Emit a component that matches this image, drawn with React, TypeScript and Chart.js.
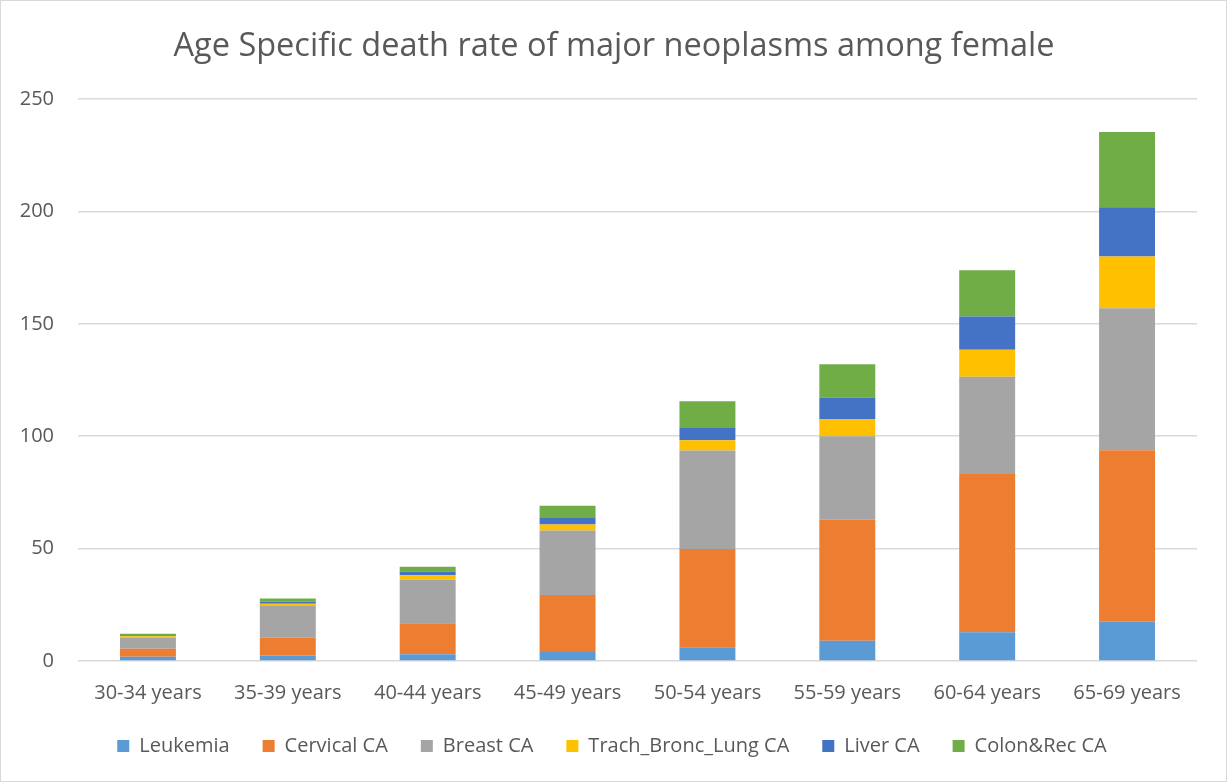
import React, { useEffect, useRef } from "react";
import { Chart, registerables } from "chart.js";

Chart.register(...registerables);

const categories = ["30-34 years", "35-39 years", "40-44 years", "45-49 years", "50-54 years", "55-59 years", "60-64 years", "65-69 years"];
const leukemia = [1.9, 2.5, 3.0, 4.0, 6.1, 9.0, 12.8, 17.5];
const cervical = [3.6, 7.9, 13.8, 25.4, 43.7, 54.0, 70.4, 76.2];
const breast = [4.9, 14.1, 19.4, 28.7, 43.8, 37.0, 43.3, 63.2];
const lung = [0.6, 1.0, 2.0, 2.6, 4.6, 7.7, 12.0, 23.0];
const liver = [0.45, 0.9, 1.6, 2.9, 5.5, 9.4, 14.7, 22.0];
const colon = [0.7, 1.4, 2.1, 5.5, 11.9, 14.9, 20.6, 33.4];
const yTicks = [0, 50, 100, 150, 200, 250];

const FONT = "'Open Sans', 'DejaVu Sans', sans-serif";

const shiftPlugin = {
  id: "shiftBoxes",
  afterLayout(chart: any) {
    if (chart.legend) {
      chart.legend.left += 13;
      chart.legend.right += 13;
    }
    if (chart.titleBlock) {
      chart.titleBlock.left += 15;
      chart.titleBlock.right += 15;
    }
    if (chart.scales.x) {
      chart.scales.x.bottom = chart.height;
    }
  },
};

export default function App() {
  const ref = useRef<HTMLCanvasElement | null>(null);
  useEffect(() => {
    document.body.style.margin = "0";
    const ctx = ref.current!;
    const mk = (label: string, data: number[], color: string) => ({
      label,
      data,
      backgroundColor: color,
      borderWidth: 0,
      barPercentage: 0.4,
      categoryPercentage: 1,
    });
    const chart = new Chart(ctx, {
      type: "bar",
      data: {
        labels: categories,
        datasets: [
          mk("Leukemia", leukemia, "#5b9bd5"),
          mk("Cervical CA", cervical, "#ed7d31"),
          mk("Breast CA", breast, "#a5a5a5"),
          mk("Trach_Bronc_Lung CA", lung, "#ffc000"),
          mk("Liver CA", liver, "#4472c4"),
          mk("Colon&Rec CA", colon, "#70ad47"),
        ],
      },
      plugins: [shiftPlugin],
      options: {
        animation: false,
        responsive: false,
        maintainAspectRatio: false,
        layout: { padding: { left: 0, right: 29, top: 14, bottom: 15 } },
        plugins: {
          title: {
            display: true,
            text: "Age Specific death rate of major neoplasms among female",
            color: "#595959",
            font: { family: FONT, size: 32.5, weight: "normal" },
            padding: { top: 12, bottom: 33 },
          },
          legend: {
            position: "bottom",
            labels: {
              color: "#595959",
              font: { family: FONT, size: 20 },
              boxWidth: 12,
              boxHeight: 12,
              padding: 33,
            },
          },
          tooltip: { enabled: false },
        },
        scales: {
          x: {
            stacked: true,
            grid: { display: false },
            border: { display: false },
            ticks: { color: "#595959", font: { family: FONT, size: 20 }, padding: 12, maxRotation: 0 },
            afterFit: (axis: any) => {
              axis.height = axis.height - 14;
            },
          },
          y: {
            stacked: true,
            min: 0,
            max: 250,
            afterBuildTicks: (axis: any) => {
              axis.ticks = yTicks.map((v) => ({ value: v }));
            },
            afterFit: (axis: any) => {
              axis.width = 77;
            },
            grid: { color: "#d9d9d9", lineWidth: 1.5, drawTicks: false },
            border: { display: false },
            ticks: { color: "#595959", font: { family: FONT, size: 20 }, padding: 24 },
          },
        },
      },
    });
    return () => chart.destroy();
  }, []);
  return (
    <div style={{ position: "relative", width: 1227, height: 782, boxSizing: "border-box", border: "1px solid #d9d9d9", background: "#fff" }}>
      <canvas ref={ref} width={1225} height={780} style={{ display: "block" }} />
    </div>
  );
}
